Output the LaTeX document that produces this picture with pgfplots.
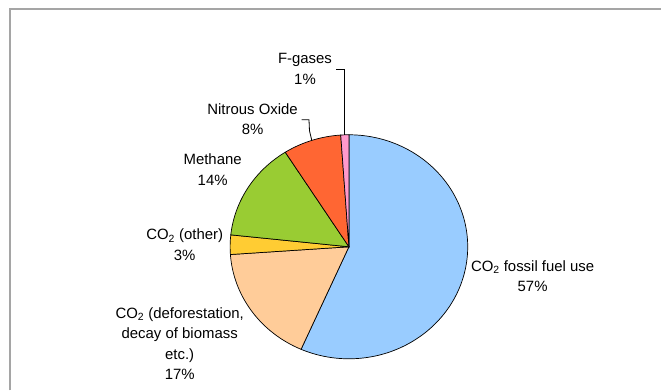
\documentclass[border=0pt]{standalone}
\usepackage{pgfplots}
\pgfplotsset{compat=1.18}
\usepackage{fontspec}
\setmainfont{Liberation Sans}
\definecolor{cfossil}{HTML}{99CCFF}
\definecolor{cdefor}{HTML}{FFCC99}
\definecolor{cother}{HTML}{FFCC33}
\definecolor{cmeth}{HTML}{99CC33}
\definecolor{cnitro}{HTML}{FF6633}
\definecolor{cfgas}{HTML}{FF99CC}
\definecolor{frame}{HTML}{A5A5A5}
% shares in percent, clockwise from 12 o'clock:
% CO2 fossil 56.6, CO2 deforestation 17.3, CO2 other 2.8,
% methane 14.3, nitrous oxide 7.9, F-gases 1.1
% cumulative: 0, 56.6, 73.9, 76.7, 91.0, 98.9, 100
\newcommand{\lbl}{\fontsize{15}{20.6}\selectfont}
\begin{document}
\begin{tikzpicture}
\begin{axis}[
  width=662bp, height=391bp, scale only axis,
  xmin=0, xmax=662, ymin=0, ymax=391, y dir=reverse,
  hide axis, clip=false,
  slice/.style={draw=black, line width=0.7bp, samples=120, variable=\t},
]
\path (0,0) rectangle (662,391);
\draw[frame, line width=2.2bp] (10,391) -- (10,9) -- (662,9);
% pie slices (centre 349.5,247.2; radii 119 x 112.2)
\addplot[slice, fill=cfossil, domain={90-3.6*56.6}:{90-3.6*0}]
  ({349.5+119*cos(\t)},{247.2-112.2*sin(\t)}) -- (349.5,247.2) -- cycle;
\addplot[slice, fill=cdefor, domain={90-3.6*73.9}:{90-3.6*56.6}]
  ({349.5+119*cos(\t)},{247.2-112.2*sin(\t)}) -- (349.5,247.2) -- cycle;
\addplot[slice, fill=cother, domain={90-3.6*76.7}:{90-3.6*73.9}]
  ({349.5+119*cos(\t)},{247.2-112.2*sin(\t)}) -- (349.5,247.2) -- cycle;
\addplot[slice, fill=cmeth, domain={90-3.6*91.0}:{90-3.6*76.7}]
  ({349.5+119*cos(\t)},{247.2-112.2*sin(\t)}) -- (349.5,247.2) -- cycle;
\addplot[slice, fill=cnitro, domain={90-3.6*98.9}:{90-3.6*91.0}]
  ({349.5+119*cos(\t)},{247.2-112.2*sin(\t)}) -- (349.5,247.2) -- cycle;
\addplot[slice, fill=cfgas, domain={90-3.6*100}:{90-3.6*98.9}]
  ({349.5+119*cos(\t)},{247.2-112.2*sin(\t)}) -- (349.5,247.2) -- cycle;
% leader lines
\draw[black, line width=0.8bp] (337,69.3) -- (345,69.3) -- (345,135.5);
\draw[black, line width=0.8bp] (302,120) -- (309.5,120) -- (310,131) -- (312.3,140.6);
% labels
\node[align=center, font=\lbl] at (305.5,68.8) {F-gases\\1\%};
\node[align=center, font=\lbl] at (253,119.3) {Nitrous Oxide\\8\%};
\node[align=center, font=\lbl] at (213,170) {Methane\\14\%};
\node[align=center, font=\lbl] at (185,245) {CO\textsubscript{2} (other)\\3\%};
\node[align=center, font=\lbl] at (180,344) {CO\textsubscript{2} (deforestation,\\decay of biomass\\etc.)\\17\%};
\node[align=center, font=\lbl] at (533.5,276.7) {CO\textsubscript{2} fossil fuel use\\57\%};
\end{axis}
\end{tikzpicture}
\end{document}
